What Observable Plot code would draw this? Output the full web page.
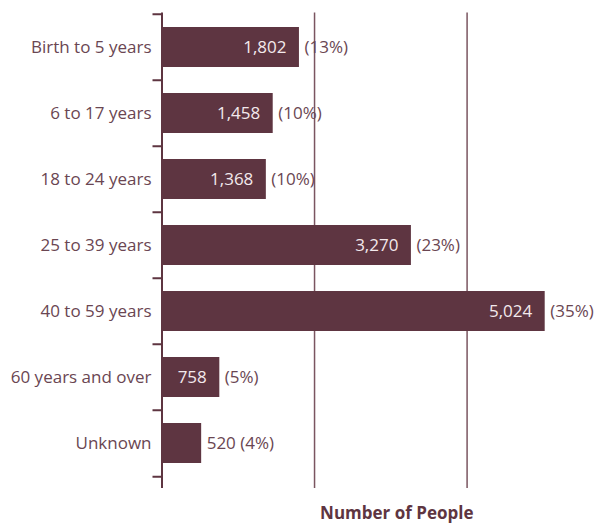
<!DOCTYPE html>
<html><head><meta charset="utf-8">
<script src="https://cdn.jsdelivr.net/npm/d3@7"></script>
<script src="https://cdn.jsdelivr.net/npm/@observablehq/plot@0.6"></script>
<style>body{margin:0;background:#fff;}</style>
</head><body><div id="chart"></div>
<script>
const categories = ["Birth to 5 years","6 to 17 years","18 to 24 years","25 to 39 years","40 to 59 years","60 years and over","Unknown"];
const counts = [1802,1458,1368,3270,5024,758,520];
const percents = [13,10,10,23,35,5,4];
const gridValues = [2000,4000];
const xLabel = "Number of People";

const data = categories.map((c,i)=>({category:c, count:counts[i], pct:percents[i]}));
const fmt = d3.format(",");
const barColor = "#5e3541";
const ink = "#6a4652";
const inside = d => d.count >= 700;
const H = 525, MT = 12.5, MB = 47;
const step = (H - MT - MB) / categories.length;
const FS = 17;

const chart = Plot.plot({
  width: 616, height: H,
  marginLeft: 161.5, marginRight: 35, marginTop: MT, marginBottom: MB,
  style: {fontFamily: "'Open Sans', sans-serif", fontSize: FS + "px", color: ink, background: "#fff"},
  x: {domain: [0, 5500], axis: null},
  y: {domain: categories, paddingInner: 0.4, paddingOuter: 0.2, label: null, axis: null},
  marks: [
    Plot.ruleX(gridValues, {stroke: "#7a5560", strokeWidth: 1.5, insetBottom: -10}),
    Plot.barX(data, {y: "category", x: "count", fill: barColor}),
    Plot.ruleX([0], {stroke: barColor, strokeWidth: 2, insetBottom: -10}),
    Plot.axisY({tickSize: 9, text: null, dy: -step/2, stroke: barColor, strokeWidth: 2, anchor: "left"}),
    Plot.axisY([categories[categories.length-1]], {tickSize: 9, text: null, dy: step/2, stroke: barColor, strokeWidth: 2, anchor: "left"}),
    Plot.axisY({tickSize: 0, tickPadding: 10.5, fontSize: FS, fill: ink, anchor: "left", label: null}),
    Plot.text(data.filter(inside), {y: "category", x: "count", text: d => fmt(d.count), textAnchor: "end", dx: -13, fill: "#f3e9ec", fontSize: FS}),
    Plot.text(data, {y: "category", x: "count", text: d => inside(d) ? `(${d.pct}%)` : `${fmt(d.count)} (${d.pct}%)`, textAnchor: "start", dx: 5, fill: ink, fontSize: FS}),
    Plot.text([xLabel], {text: d => d, frameAnchor: "bottom", lineAnchor: "middle", dx: 25, dy: 35, fontWeight: "bold", fill: barColor, fontSize: FS})
  ]
});
document.getElementById("chart").appendChild(chart);
</script>
</body></html>
